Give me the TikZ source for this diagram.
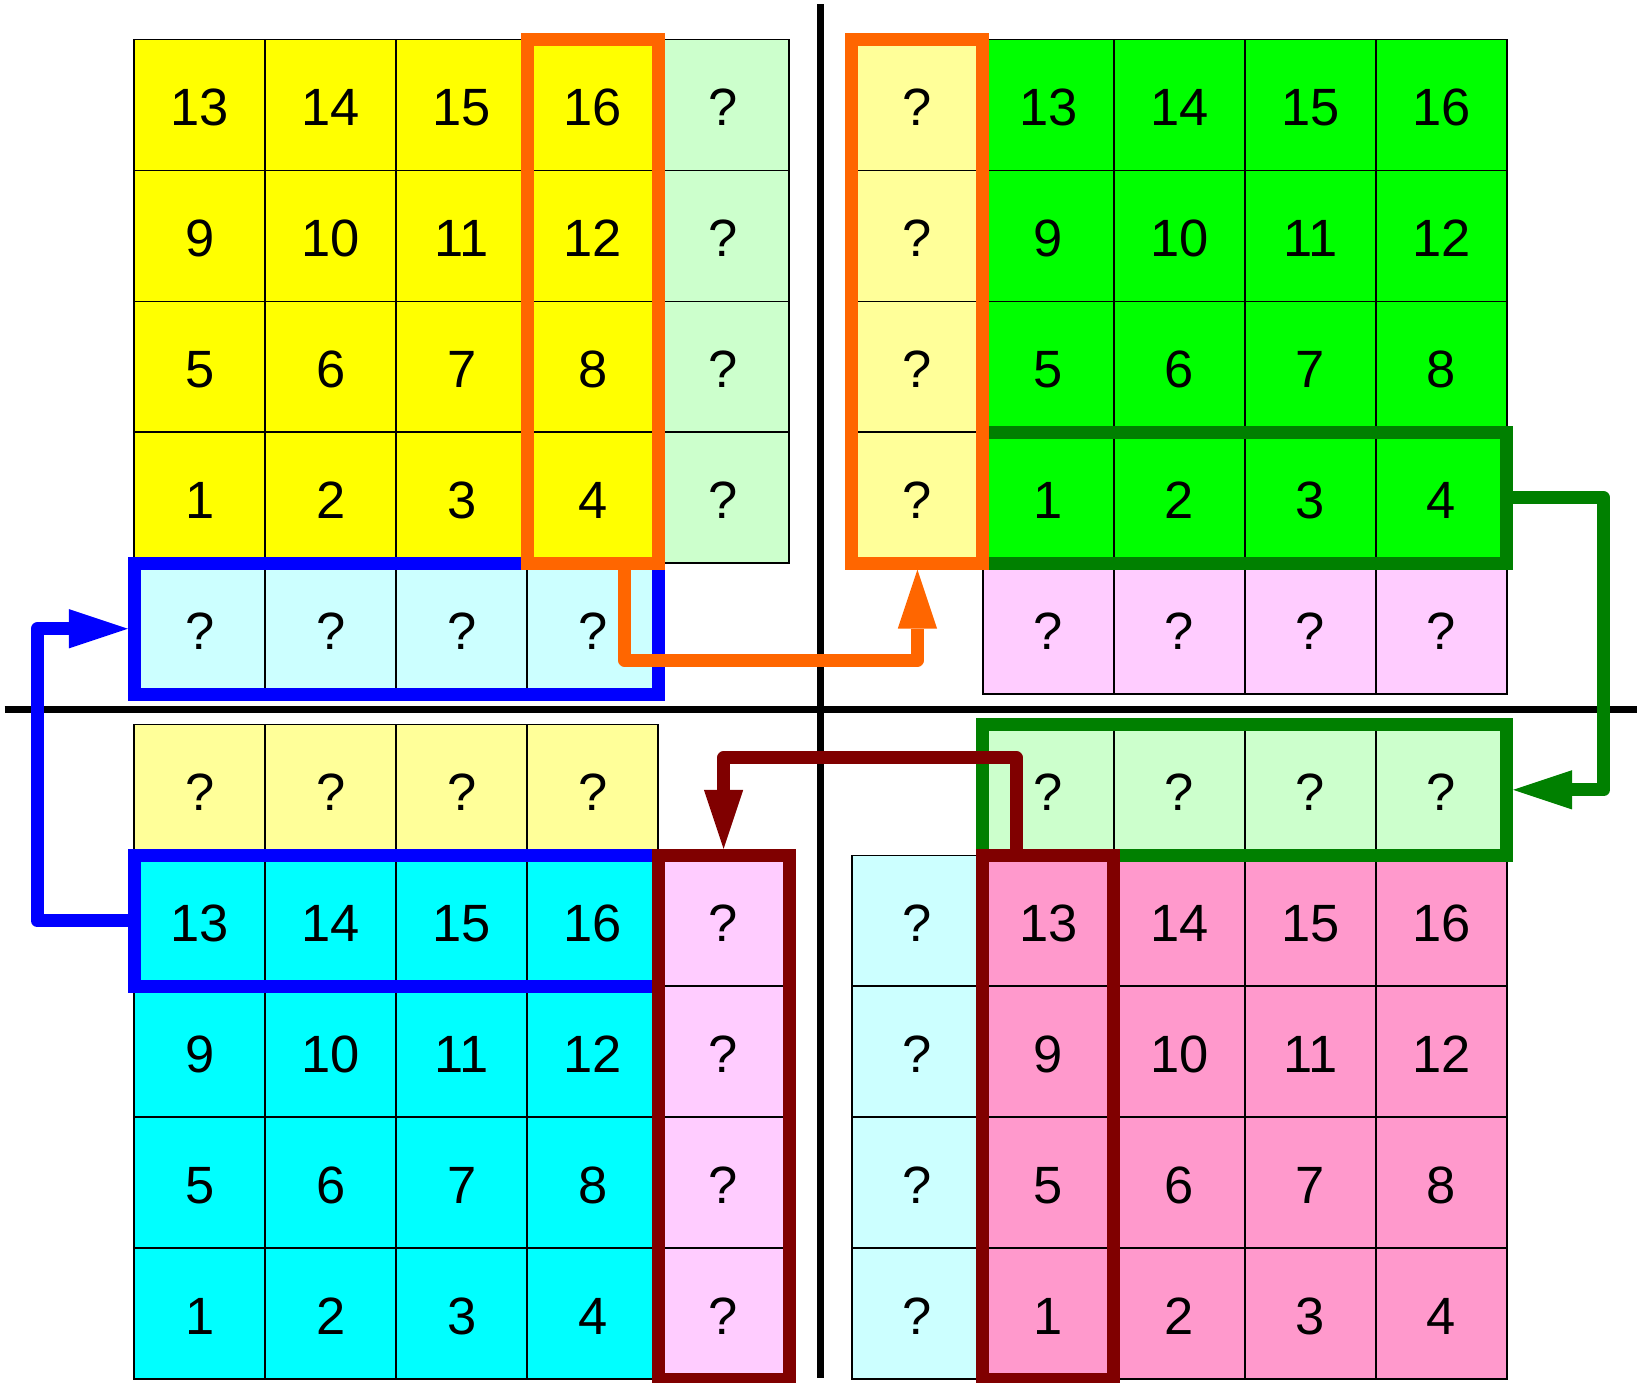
\documentclass[tikz,border=0pt]{standalone}
\usepackage{fontspec}
\setmainfont{Liberation Sans}
\usetikzlibrary{arrows.meta}
\definecolor{yel}{HTML}{FFFF00}
\definecolor{yelghost}{HTML}{FFFF99}
\definecolor{grn}{HTML}{00FF00}
\definecolor{grnghost}{HTML}{CCFFCC}
\definecolor{cyn}{HTML}{00FFFF}
\definecolor{cynghost}{HTML}{CCFFFF}
\definecolor{pnk}{HTML}{FF99CC}
\definecolor{pnkghost}{HTML}{FFCCFF}
\definecolor{orframe}{HTML}{FF6600}
\definecolor{blframe}{HTML}{0000FF}
\definecolor{gnframe}{HTML}{008000}
\definecolor{rdframe}{HTML}{800000}

\begin{document}
\begin{tikzpicture}[line cap=butt,line join=miter,>={Triangle[length=4.5mm,width=3mm,line width=0pt]},
  cell/.style={draw,line width=0.35pt,minimum size=1cm,inner sep=0pt,outer sep=0pt,text height=0.31cm,text depth=0pt,font=\fontsize{11.4}{13.7}\selectfont},
  frame/.style={line width=2.8pt},
  link/.style={line width=2.8pt,line join=round,->}]
  \def\gx{0.24}
  \def\gy{0.115}
  \useasboundingbox (-6.265,-5.141) rectangle (6.265,5.416);
  % axes
  \draw[line width=1.45pt] (0,-5.103) -- (0,5.385);
  \draw[line width=1.45pt] (-6.229,0) -- (6.234,0);
  % the four blocks of 4x4
  \foreach \i in {1,...,4} {
    \foreach \j in {1,...,4} {
      \pgfmathtruncatemacro\n{4*(\j-1)+\i}
      \node[cell,fill=yel] (ye\n) at ({\i-5.5-\gx},{\j+0.5+\gy}) {\n};
      \node[cell,fill=grn] (gr\n) at ({\i+0.5+\gx},{\j+0.5+\gy}) {\n};
      \node[cell,fill=cyn] (cy\n) at ({\i-5.5-\gx},{\j-5.5-\gy}) {\n};
      \node[cell,fill=pnk] (pk\n) at ({\i+0.5+\gx},{\j-5.5-\gy}) {\n};
    }
  }
  % ghost cells
  \foreach \k in {1,...,4} {
    \node[cell,fill=grnghost] (yeR\k) at ({-0.5-\gx},{\k+0.5+\gy}) {?};
    \node[cell,fill=cynghost] (yeB\k) at ({\k-5.5-\gx},{0.5+\gy}) {?};
    \node[cell,fill=yelghost] (grL\k) at ({0.5+\gx},{\k+0.5+\gy}) {?};
    \node[cell,fill=pnkghost] (grB\k) at ({\k+0.5+\gx},{0.5+\gy}) {?};
    \node[cell,fill=yelghost] (cyT\k) at ({\k-5.5-\gx},{-0.5-\gy}) {?};
    \node[cell,fill=pnkghost] (cyR\k) at ({-0.5-\gx},{\k-5.5-\gy}) {?};
    \node[cell,fill=grnghost] (pkT\k) at ({\k+0.5+\gx},{-0.5-\gy}) {?};
    \node[cell,fill=cynghost] (pkL\k) at ({0.5+\gx},{\k-5.5-\gy}) {?};
  }
  % frames
  \draw[frame,blframe] (yeB1.north west) rectangle (yeB4.south east);
  \draw[frame,blframe] (cy13.north west) rectangle (cy16.south east);
  \draw[frame,gnframe] (gr1.north west) rectangle (gr4.south east);
  \draw[frame,gnframe] (pkT1.north west) rectangle (pkT4.south east);
  \draw[frame,orframe] (ye16.north west) rectangle (ye4.south east);
  \draw[frame,orframe] (grL4.north west) rectangle (grL1.south east);
  \draw[frame,rdframe] (cyR4.north west) rectangle (cyR1.south east);
  \draw[frame,rdframe] (pk13.north west) rectangle (pk1.south east);
  % exchanges
  \draw[link,blframe] (cy13.west) -- ++(-0.74,0) |- ([xshift=-1.4pt]yeB1.west);
  \draw[link,orframe] ([xshift=2.44mm]ye4.south) -- ++(0,-0.741) -| ([yshift=-1.4pt]grL1.south);
  \draw[link,gnframe] (gr4.east) -- ++(0.74,0) |- ([xshift=1.4pt]pkT4.east);
  \draw[link,rdframe] ([xshift=-2.44mm]pk13.north) -- ++(0,0.745) -| ([yshift=1.4pt]cyR4.north);
\end{tikzpicture}
\end{document}
